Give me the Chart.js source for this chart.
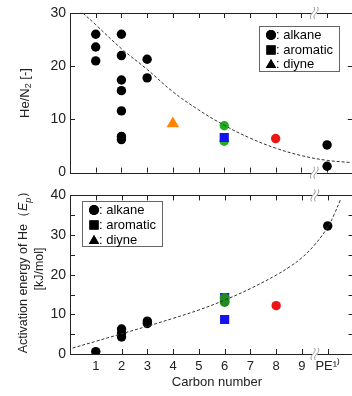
<!DOCTYPE html>
<html>
<head>
<meta charset="utf-8">
<script src="https://cdn.jsdelivr.net/npm/chart.js@4.4.1/dist/chart.umd.min.js"></script>
<style>
    body { margin: 0; background: #fff; overflow: hidden; width: 352px; height: 396px; position: relative; }
    canvas { position: absolute; left: 0; }
    #top-chart { top: 0; }
    #bottom-chart { top: 183px; }
</style>
</head>
<body>
<canvas id="top-chart" width="360" height="185"></canvas>
<canvas id="bottom-chart" width="360" height="213"></canvas>
<script>
// carbon number ticks, 10 = PE
const carbonTicks = [1, 2, 3, 4, 5, 6, 7, 8, 9, 10];
const peLabel = "PE\u00b9\u207e";

// He/N2 selectivity
const hnAlkaneC = [1, 1, 1, 2, 2, 2, 2, 2, 2, 2, 3, 3, 10, 10];
const hnAlkane = [26, 23.6, 21, 26, 22, 17.4, 15.4, 11.6, 6.8, 6.2, 21.3, 17.8, 5.2, 1.2];
const hnDiyneC = [4];
const hnDiyne = [9.2];
const hnGreenC = [6, 6];
const hnGreen = [8.8, 5.9];
const hnAromaticC = [6];
const hnAromatic = [6.6];
const hnRedC = [8];
const hnRed = [6.4];
const hnFitC = [0.5, 1, 2, 3, 4, 5, 6, 7, 8, 9, 10, 10.9];
const hnFit = [30, 27.8, 23.3, 19.4, 15.2, 11.8, 8.9, 6.5, 4.6, 3.2, 2.3, 1.9];

// activation energy of He
const epAlkaneC = [1, 2, 2, 2, 3, 3, 10];
const epAlkane = [0.6, 6.3, 5.3, 4.3, 8.3, 7.7, 32.3];
const epGreenC = [6, 6];
const epGreen = [14.1, 13.1];
const epAromaticC = [6, 6];
const epAromatic = [14.2, 8.7];
const epRedC = [8];
const epRed = [12.2];
const epFitC = [0.1, 1, 2, 3, 4, 5, 6, 7, 8, 8.5, 9, 9.5, 10, 10.25, 10.5];
const epFit = [1.5, 3.2, 5.1, 7.0, 9.0, 11.1, 13.6, 16.5, 19.9, 21.9, 24.3, 27.6, 32.0, 35.2, 39.0];

const FONT = "'Liberation Sans', Arial, sans-serif";

const pts = (xs, ys) => xs.map((x, i) => ({ x: x, y: ys[i] }));

function dots(xs, ys, color, style, radius) {
    return {
        data: pts(xs, ys),
        pointStyle: style || "circle",
        pointRadius: radius || 4.7,
        backgroundColor: color,
        borderColor: color,
        borderWidth: 0,
        showLine: false
    };
}

function fitLine(xs, ys) {
    return {
        data: pts(xs, ys),
        showLine: true,
        borderColor: "#333",
        borderWidth: 1,
        borderDash: [3, 2],
        pointRadius: 0,
        tension: 0.4
    };
}

function drawBreak(ctx, cx, cy) {
    ctx.save();
    ctx.fillStyle = "#fff";
    ctx.fillRect(cx - 2.5, cy - 1.5, 5, 3);
    ctx.strokeStyle = "#999";
    ctx.lineWidth = 1;
    [-1.8, 1.8].forEach(dx => {
        ctx.beginPath();
        ctx.moveTo(cx + dx - 1.5, cy + 6);
        ctx.bezierCurveTo(cx + dx - 4.5, cy + 1, cx + dx + 4.5, cy - 1, cx + dx + 1.5, cy - 6);
        ctx.stroke();
    });
    ctx.restore();
}

function drawLegend(ctx, bx, by, mx, rows) {
    ctx.save();
    ctx.fillStyle = "#fff";
    ctx.fillRect(bx, by, 80, 45);
    ctx.strokeStyle = "#666";
    ctx.lineWidth = 1;
    ctx.strokeRect(bx + 0.5, by + 0.5, 80, 45);
    const items = [["circle", 5, ": alkane"], ["rect", 6.5, ": aromatic"], ["triangle", 6, ": diyne"]];
    ctx.font = "13px " + FONT;
    ctx.textBaseline = "middle";
    items.forEach((it, i) => {
        ctx.fillStyle = "#000";
        ctx.strokeStyle = "#000";
        Chart.helpers.drawPoint(ctx, { pointStyle: it[0], radius: it[1], rotation: 0, borderWidth: 0 }, mx, rows[i] + (it[0] === "triangle" ? 1 : 0));
        ctx.fill();
        ctx.fillText(it[2], mx + 5, rows[i]);
    });
    ctx.restore();
}

// rotated text built of runs: [text, font, dy]
function drawRotated(ctx, runs, cx, cy) {
    ctx.save();
    ctx.translate(cx, cy);
    ctx.rotate(-Math.PI / 2);
    ctx.fillStyle = "#222";
    ctx.textBaseline = "middle";
    let total = 0;
    runs.forEach(r => { ctx.font = r[1]; total += ctx.measureText(r[0]).width; });
    let x = -total / 2;
    runs.forEach(r => {
        ctx.font = r[1];
        ctx.fillText(r[0], x, r[2] || 0);
        x += ctx.measureText(r[0]).width;
    });
    ctx.restore();
}

const framePlugin = {
    id: "frame",
    beforeDatasetsDraw(chart, args, o) {
        const ctx = chart.ctx;
        const a = chart.chartArea;
        const xs = chart.scales.x, ys = chart.scales.y;
        ctx.save();
        ctx.strokeStyle = "#222";
        ctx.lineWidth = 1;
        ctx.strokeRect(Math.round(a.left) + 0.5, Math.round(a.top) + 0.5, Math.round(a.right - a.left), Math.round(a.bottom - a.top));
        ctx.beginPath();
        carbonTicks.forEach(v => {
            const px = Math.round(xs.getPixelForValue(v)) + 0.5;
            ctx.moveTo(px, a.top); ctx.lineTo(px, a.top + 5);
            ctx.moveTo(px, a.bottom); ctx.lineTo(px, a.bottom - 5);
        });
        o.yTicks.forEach(v => {
            const py = Math.round(ys.getPixelForValue(v)) + 0.5;
            ctx.moveTo(a.left, py); ctx.lineTo(a.left + 5, py);
            ctx.moveTo(a.right, py); ctx.lineTo(a.right - 5, py);
        });
        ctx.stroke();
        ctx.restore();
    },
    afterDraw(chart, args, o) {
        const ctx = chart.ctx;
        const a = chart.chartArea;
        const bx = chart.scales.x.getPixelForValue(9.5);
        drawBreak(ctx, bx, a.top);
        drawBreak(ctx, bx, a.bottom);
        drawLegend(ctx, o.legend[0], o.legend[1], o.legend[2], o.legend[3]);
        o.titles.forEach(t => drawRotated(ctx, t.runs, t.x, t.y));
        if (o.xTitle) {
            ctx.save();
            ctx.fillStyle = "#222";
            ctx.font = "13px " + FONT;
            ctx.textAlign = "center";
            ctx.textBaseline = "middle";
            ctx.fillText(o.xTitle[0], o.xTitle[1], o.xTitle[2]);
            ctx.restore();
        }
    }
};

function makeChart(id, datasets, yMax, frame, showX, pad, xHeight) {
    return new Chart(document.getElementById(id), {
        type: "scatter",
        data: { datasets: datasets },
        options: {
            responsive: false,
            animation: false,
            devicePixelRatio: 1,
            layout: { padding: { top: pad, right: 5, left: 0, bottom: 0 } },
            plugins: { legend: { display: false }, tooltip: { enabled: false }, frame: frame },
            scales: {
                x: {
                    type: "linear", min: 0, max: 11,
                    grid: { display: false, drawTicks: false },
                    border: { display: false },
                    afterFit: s => { s.height = xHeight; },
                    ticks: {
                        display: showX,
                        stepSize: 1,
                        autoSkip: false,
                        maxRotation: 0,
                        padding: 5,
                        color: "#222",
                        font: { family: FONT, size: 13 },
                        callback: v => v === 10 ? peLabel : (v >= 1 && v <= 9 ? String(v) : "")
                    }
                },
                y: {
                    min: 0, max: yMax,
                    grid: { display: false, drawTicks: false },
                    border: { display: false },
                    afterFit: s => { s.width = 70; },
                    ticks: { stepSize: 10, padding: 4, color: "#222", font: { family: FONT, size: 14 } }
                }
            }
        },
        plugins: [framePlugin]
    });
}

makeChart("top-chart", [
    fitLine(hnFitC, hnFit),
    dots(hnAromaticC, hnAromatic, "#1414ee", "rect", 6.5),
    dots(hnGreenC, hnGreen, "#22ad22"),
    dots(hnRedC, hnRed, "#ee1515"),
    dots(hnDiyneC, hnDiyne, "#ff8400", "triangle", 7.2),
    dots(hnAlkaneC, hnAlkane, "#000")
], 30, {
    yTicks: [10, 20],
    legend: [259, 26, 271, [35, 50, 64]],
    titles: [{ x: 25, y: 93, runs: [["He/N", "13px " + FONT], ["2", "9px " + FONT, 4], [" [-]", "13px " + FONT]] }]
}, false, 13, 10);

makeChart("bottom-chart", [
    fitLine(epFitC, epFit),
    dots(epGreenC, epGreen, "#1f8c22", "circle", 5),
    dots(epAromaticC, epAromatic, "#1414ee", "rect", 6.5),
    dots(epRedC, epRed, "#ee1515"),
    dots(epAlkaneC, epAlkane, "#000")
], 40, {
    yTicks: [5, 10, 15, 20, 25, 30, 35],
    legend: [82, 18, 94, [27, 42, 57]],
    titles: [
        { x: 24, y: 86, runs: [["Activation energy of He\uff08", "12.5px " + FONT], ["E", "italic 12.5px " + FONT], ["p", "italic 9px " + FONT, 4], ["\uff09", "12.5px " + FONT]] },
        { x: 40, y: 86, runs: [["[kJ/mol]", "12.5px " + FONT]] }
    ],
    xTitle: ["Carbon number", 217, 199]
}, true, 8, 42);
</script>
</body>
</html>
